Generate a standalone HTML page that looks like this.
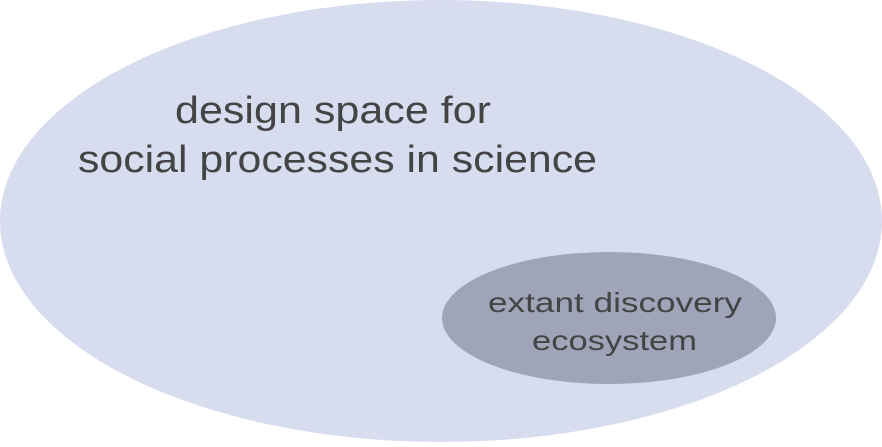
<!DOCTYPE html>
<html><head><meta charset="utf-8"><style>
html,body{margin:0;padding:0;background:#fff;}
body{width:882px;height:442px;overflow:hidden;}
</style></head><body>
<svg width="882" height="442" viewBox="0 0 882 442" xmlns="http://www.w3.org/2000/svg">
<ellipse cx="441" cy="221" rx="441" ry="221" fill="#d8dcef"/>
<ellipse cx="609" cy="318" rx="167" ry="66" fill="#a0a4b8"/>
<g font-family="Liberation Sans, sans-serif" fill="#444444" text-anchor="middle">
<text x="333" y="123" font-size="38" textLength="316" lengthAdjust="spacingAndGlyphs">design space for</text>
<text x="337.5" y="172" font-size="38" textLength="519" lengthAdjust="spacingAndGlyphs">social processes in science</text>
<text x="615" y="312" font-size="28" textLength="254" lengthAdjust="spacingAndGlyphs">extant discovery</text>
<text x="614.5" y="350" font-size="28" textLength="165" lengthAdjust="spacingAndGlyphs">ecosystem</text>
</g>
</svg>
</body></html>
